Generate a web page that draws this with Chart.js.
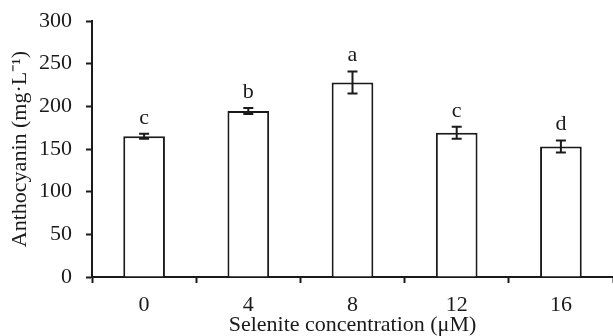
<!DOCTYPE html>
<html>
<head>
<meta charset="utf-8">
<script src="https://cdn.jsdelivr.net/npm/chart.js@4.4.0/dist/chart.umd.min.js"></script>
<style>
    html, body { margin: 0; padding: 0; background: #fff; }
    #wrap { width: 613px; height: 336px; }
</style>
</head>
<body>
<div id="wrap"><canvas id="grafico" width="613" height="336"></canvas></div>
<script>
// ===================== DADOS =====================
const categorias = ["0", "4", "8", "12", "16"];
const valores    = [165, 194.5, 228, 169, 153];
const erros      = [3, 3.5, 13, 7, 7];
const letras     = ["c", "b", "a", "c", "d"];
const ticksY     = [0, 50, 100, 150, 200, 250, 300];

// ===================== ESTILO =====================
const FONTE = "'Liberation Serif', 'Times New Roman', serif";
const PRETO = "#1a1a1a";
const TAM   = 22;

// barras de erro + letras de significância
const pluginErros = {
    id: "erros",
    afterDatasetsDraw(chart) {
        const ctx  = chart.ctx;
        const meta = chart.getDatasetMeta(0);
        const y    = chart.scales.y;
        ctx.save();
        ctx.strokeStyle = PRETO;
        ctx.lineWidth = 2;
        ctx.fillStyle = PRETO;
        ctx.font = TAM + "px " + FONTE;
        ctx.textAlign = "center";
        ctx.textBaseline = "alphabetic";
        meta.data.forEach((bar, i) => {
            const x   = bar.x;
            const yHi = y.getPixelForValue(valores[i] + erros[i]);
            const yLo = y.getPixelForValue(valores[i] - erros[i]);
            ctx.beginPath();
            ctx.moveTo(x, yHi); ctx.lineTo(x, yLo);
            ctx.moveTo(x - 5, yHi); ctx.lineTo(x + 5, yHi);
            ctx.moveTo(x - 5, yLo); ctx.lineTo(x + 5, yLo);
            ctx.stroke();
            ctx.fillText(letras[i], x, yHi - 10);
        });
        ctx.restore();
    }
};

new Chart(document.getElementById("grafico"), {
    type: "bar",
    data: {
        labels: categorias,
        datasets: [{
            data: valores,
            backgroundColor: "#fff",
            borderColor: PRETO,
            borderWidth: 2,
            barPercentage: 0.4,
            categoryPercentage: 1,
        }],
    },
    options: {
        responsive: false,
        animation: false,
        devicePixelRatio: 1,
        layout: { padding: { left: 8, top: 0, right: 0, bottom: 0 } },
        plugins: {
            legend:  { display: false },
            tooltip: { enabled: false },
        },
        scales: {
            x: {
                grid: {
                    offset: true,
                    drawOnChartArea: false,
                    drawTicks: true,
                    tickLength: 6,
                    tickWidth: 2,
                    tickColor: PRETO,
                },
                border: { color: PRETO, width: 2 },
                ticks: { color: PRETO, padding: 9, font: { family: FONTE, size: TAM } },
                title: {
                    display: true,
                    text: "Selenite concentration (μM)",
                    color: PRETO,
                    padding: 0,
                    font: { family: FONTE, size: TAM, lineHeight: 1 },
                },
                afterFit: s => { s.height = 59; },
            },
            y: {
                min: 0,
                max: 300,
                afterBuildTicks: s => { s.ticks = ticksY.map(v => ({ value: v })); },
                grid: {
                    drawOnChartArea: false,
                    drawTicks: true,
                    tickLength: 6,
                    tickWidth: 2,
                    tickColor: PRETO,
                },
                border: { color: PRETO, width: 2 },
                ticks: { color: PRETO, padding: 14, font: { family: FONTE, size: TAM, lineHeight: 0.64 } },
                title: {
                    display: true,
                    text: "Anthocyanin (mg·L⁻¹)",
                    color: PRETO,
                    padding: 0,
                    font: { family: FONTE, size: TAM, lineHeight: 1.1 },
                },
                afterFit: s => { s.width = 92 - 8; },
            },
        },
    },
    plugins: [pluginErros],
});
</script>
</body>
</html>
